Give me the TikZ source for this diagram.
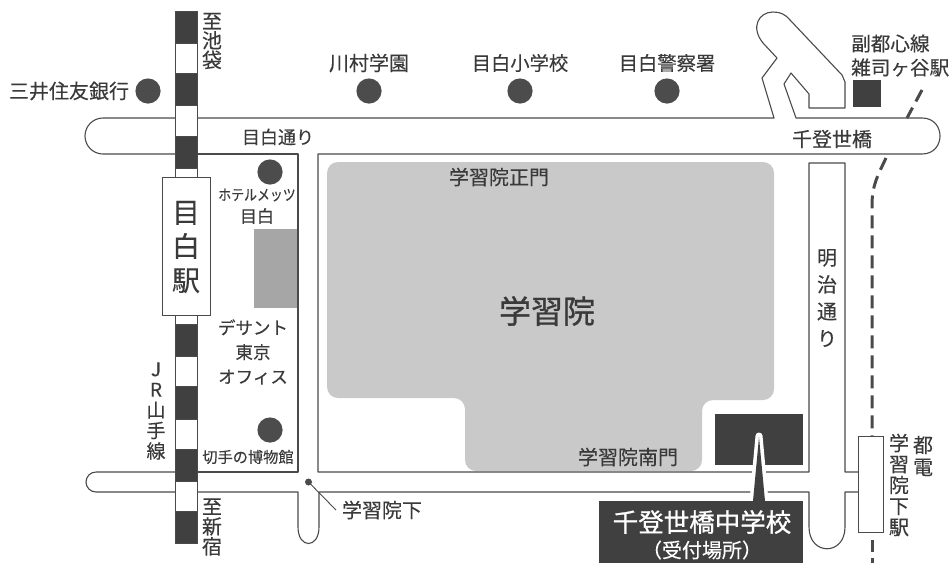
\documentclass[tikz,border=0pt]{standalone}
\usepackage{fontspec}
\newfontfamily\cjk[FakeBold=0.25]{Noto Sans CJK JP}
\newfontfamily\cjkheavy[FakeBold=1]{Noto Sans CJK JP}
\newcommand{\fz}[2]{\fontsize{#1}{#2}\selectfont}
\definecolor{ink}{HTML}{3A3A3A}
\definecolor{linec}{HTML}{4A4A4A}
\definecolor{dark}{HTML}{404040}
\definecolor{dot}{HTML}{4C4C4C}
\definecolor{campus}{HTML}{C9C9C9}
\definecolor{bldg}{HTML}{A6A6A6}
\tikzset{
  road/.style={draw=linec,line width=1.1pt,line join=round},
  lab/.style={text=ink,inner sep=0pt,align=center,font=\cjk},
  darkblock/.style={fill=dark,draw=linec,line width=.8pt},
  whiteblock/.style={fill=white,draw=linec,line width=.9pt},
  spot/.style={fill=dot},
  tramdash/.style={draw=linec,line width=3pt,dash pattern=on 13pt off 7pt}
}
\begin{document}
\begin{tikzpicture}[x=1pt,y=-1pt]
\useasboundingbox (0,0) rectangle (949,563);
\fill[white] (0,0) rectangle (949,563);
% campus and buildings
\fill[campus,rounded corners=11pt] (327,162) -- (774,162) -- (774,400) -- (702,400) -- (702,471) -- (465,471) -- (465,398) -- (327,398) -- cycle;
\fill[bldg] (254,229) rectangle (298,308);
\fill[dark] (715,414) rectangle (803,465);
% roads
\draw[road,rounded corners=18pt] (175,118) -| (85,154) -- (175,154);
\draw[road] (197,118) -- (774,118) -- (762,78) -- (777,58) -- (763,43)
  .. controls (750,27) and (759,12) .. (773,12)
  .. controls (780,12) and (785,14) .. (790,20)
  -- (842,75) -- (845,82) -- (845,108) -- (809,108) -- (809,94) -- (791,73) -- (784,84) -- (796,118) -- (922,118)
  .. controls (946,118) and (946,154) .. (922,154) -- (318,154) -- (318,472) -- (809,472) -- (809,163) -- (845,163) -- (845,472) -- (858,472);
\draw[road] (197,154) -- (298,154) -- (298,472) -- (197,472);
\draw[road,rounded corners=10pt] (175,472) -| (86,492) -- (175,492);
\draw[road] (197,492) -- (298,492) -- (298,527)
  .. controls (298,549) and (319,549) .. (319,527) -- (319,492) -- (809,492) -- (809,527)
  .. controls (809,556) and (845,556) .. (845,527) -- (845,492) -- (858,492);
% tram line
\draw[tramdash] (922,90) -- (907,118);
\draw[tramdash] (886,158) .. controls (878,175) and (872,185) .. (872,205) -- (872,436);
\draw[tramdash,dash pattern=on 12pt off 6pt] (872,540) -- (872,563);
% rail
\draw[darkblock] (175,11) rectangle (197,43);
\draw[whiteblock] (175,43) rectangle (197,73);
\draw[darkblock] (175,73) rectangle (197,105);
\draw[whiteblock] (175,105) rectangle (197,136);
\draw[darkblock] (175,136) rectangle (197,168);
\draw[whiteblock] (175,168) rectangle (197,177);
\draw[whiteblock] (175,315) rectangle (197,324);
\draw[darkblock] (175,324) rectangle (197,356);
\draw[whiteblock] (175,356) rectangle (197,386);
\draw[darkblock] (175,386) rectangle (197,419);
\draw[whiteblock] (175,419) rectangle (197,449);
\draw[darkblock] (175,449) rectangle (197,481);
\draw[whiteblock] (175,481) rectangle (197,511);
\draw[darkblock] (175,511) rectangle (197,543);
% stations
\draw[whiteblock] (162,177) rectangle (210,315);
\draw[whiteblock] (858,436) rectangle (883,532);
\fill[dark] (853,80) rectangle (881,107);
% spots
\fill[spot] (148,91) circle (12.6);
\fill[spot] (369,91) circle (12.6);
\fill[spot] (520,91) circle (12.6);
\fill[spot] (667,91) circle (12.6);
\fill[spot] (270,172) circle (12.6);
\fill[spot] (270,430) circle (12.6);
% bus stop marker
\fill[spot] (308.5,482) circle (3.5);
\draw[linec,line width=.9pt] (308.5,482) -- (336,510);
% school label and pointer
\fill[white,line join=round] (759,436) -- (766,501) -- (752,501) -- cycle;
\draw[white,line width=7pt,line join=round] (759,436) -- (765,501) -- (753,501) -- cycle;
\fill[dark] (759,437) -- (765,501) -- (753,501) -- cycle;
\fill[dark] (599,501) rectangle (803,563);
% labels
\node[lab,font=\cjk\fz{20}{21}] (sumitomo) at (69,91) {三井住友銀行};
\node[lab,font=\cjk\fz{20}{19.5}] (ikebukuro) at (212,41) {至\\池\\袋};
\node[lab,font=\cjk\fz{20}{21}] (kawamura) at (369,63) {川村学園};
\node[lab,font=\cjk\fz{19.3}{21}] (mejiroes) at (520,63) {目白小学校};
\node[lab,font=\cjk\fz{19.3}{21}] (police) at (667,63) {目白警察署};
\node[lab,font=\cjk\fz{18}{21}] (mejirodori) at (278,137) {目白通り};
\node[lab,font=\cjk\fz{20}{21}] (senzoku) at (832,139) {千登世橋};
\node[lab,font=\cjk\fz{19.6}{24},align=left,anchor=west] (fuku) at (851,55.5) {副都心線\\雑司ヶ谷駅};
\node[lab,font=\cjk\fz{20}{21}] (seimon) at (499,177) {学習院正門};
\node[lab,font=\cjkheavy\fz{32}{34}] (gakushuin) at (547,311) {学習院};
\node[lab,font=\cjk\fz{15}{21}] (metz) at (257,195) {\scalebox{.86}[1]{ホテルメッツ}};
\node[lab,font=\cjk\fz{17}{21}] (metz2) at (257,216) {目白};
\node[lab,font=\cjk\fz{17.5}{24.5}] (descente) at (253,352) {デサント\\東京\\オフィス};
\node[lab,font=\cjk\fz{15.2}{21}] (stamp) at (248,457) {切手の博物館};
\node[lab,font=\cjk\fz{19}{20.5}] (jr) at (156,411) {J\\R\\山\\手\\線};
\node[lab,font=\cjk\fz{20}{20}] (shinjuku) at (212,527) {至\\新\\宿};
\node[lab,font=\cjk\fz{20}{21}] (shita) at (382,510) {学習院下};
\node[lab,font=\cjk\fz{20}{21}] (nanmon) at (628,457) {学習院南門};
\node[lab,text=white,font=\cjkheavy\fz{25.5}{27}] (school) at (702,522) {千登世橋中学校};
\node[lab,text=white,font=\cjk\fz{20}{20}] (uketsuke) at (702,550) {（受付場所）};
\node[lab,font=\cjk\fz{28}{34}] (mejiro) at (186,247) {目\\白\\駅};
\node[lab,font=\cjk\fz{20}{27}] (meiji) at (827,298) {明\\治\\通\\り};
\node[lab,font=\cjk\fz{20}{22}] (toden) at (923,456) {都\\電};
\node[lab,font=\cjk\fz{20}{21}] (shitaeki) at (899,485) {学\\習\\院\\下\\駅};
\end{tikzpicture}
\end{document}
